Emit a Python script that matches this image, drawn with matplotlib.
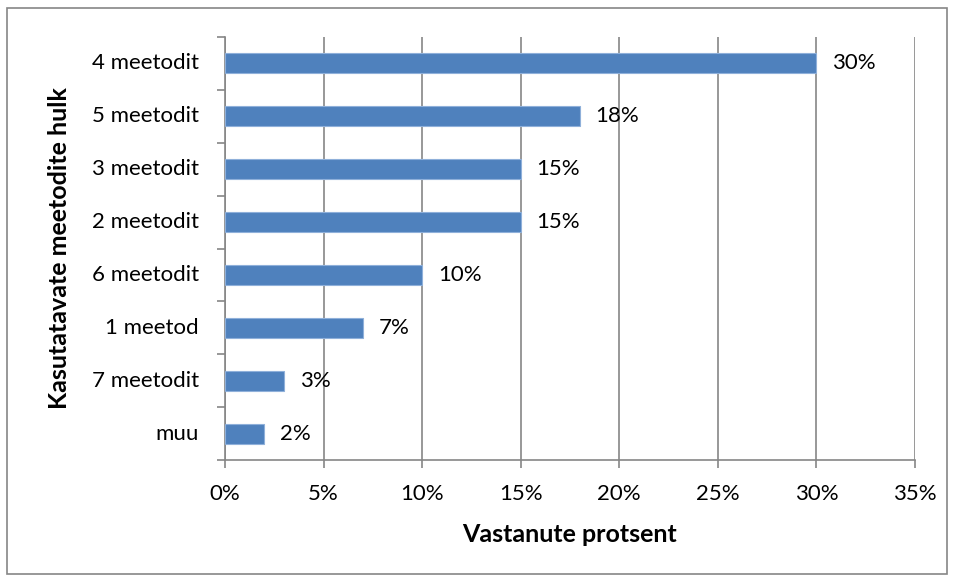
import matplotlib.pyplot as plt
from matplotlib.patches import Rectangle
from matplotlib.ticker import FuncFormatter, MultipleLocator

categories = ["4 meetodit", "5 meetodit", "3 meetodit", "2 meetodit",
              "6 meetodit", "1 meetod", "7 meetodit", "muu"]
values = [30, 18, 15, 15, 10, 7, 3, 2]

plt.rcParams['font.family'] = ['Lato', 'DejaVu Sans']

fig = plt.figure(figsize=(9.57, 5.79), dpi=100)
ax = fig.add_axes([225 / 957, 1 - 460 / 579, 690 / 957, 423 / 579])

grey = '#868686'
fs = 16
y = list(range(len(categories)))
ax.barh(y, values, height=0.38, color='#4F81BD', edgecolor='#8FB0DA', linewidth=0.8, zorder=3)
for yi, v in zip(y, values):
    ax.text(v + 0.8, yi, f"{v}%", va='center', ha='left', fontsize=fs, zorder=4)

ax.set_xlim(0, 35)
ax.set_ylim(len(categories) - 0.5, -0.5)
ax.xaxis.set_major_locator(MultipleLocator(5))
ax.xaxis.set_major_formatter(FuncFormatter(lambda v, p: f"{v:.0f}%"))
ax.grid(axis='x', color=grey, linewidth=1.2, zorder=0)

# category labels drawn as text so they sit ~25px left of the axis
ax.set_yticks([i - 0.5 for i in range(len(categories) + 1)])
ax.set_yticklabels([])
for yi, c in zip(y, categories):
    ax.text(-26 / 690, yi, c, transform=ax.get_yaxis_transform(),
            ha='right', va='center', fontsize=fs)
ax.tick_params(axis='y', length=6, color=grey, width=1.2)
ax.tick_params(axis='x', length=6, color=grey, width=1.2, labelsize=fs, pad=11)

for side in ['top', 'right']:
    ax.spines[side].set_visible(False)
for side in ['left', 'bottom']:
    ax.spines[side].set_color(grey)
    ax.spines[side].set_linewidth(1.2)

ax.set_xlabel("Vastanute protsent", fontsize=18, fontweight='bold', labelpad=14)
fig.text(60 / 957, 1 - 248 / 579, "Kasutatavate meetodite hulk", rotation=90,
         fontsize=18, fontweight='bold', ha='center', va='center')

fig.patches.append(Rectangle((7 / 957, 1 - 574 / 579), 940 / 957, 566 / 579,
                             transform=fig.transFigure, fill=False,
                             edgecolor=grey, linewidth=1.2))

fig.savefig("out.png", dpi=100)
